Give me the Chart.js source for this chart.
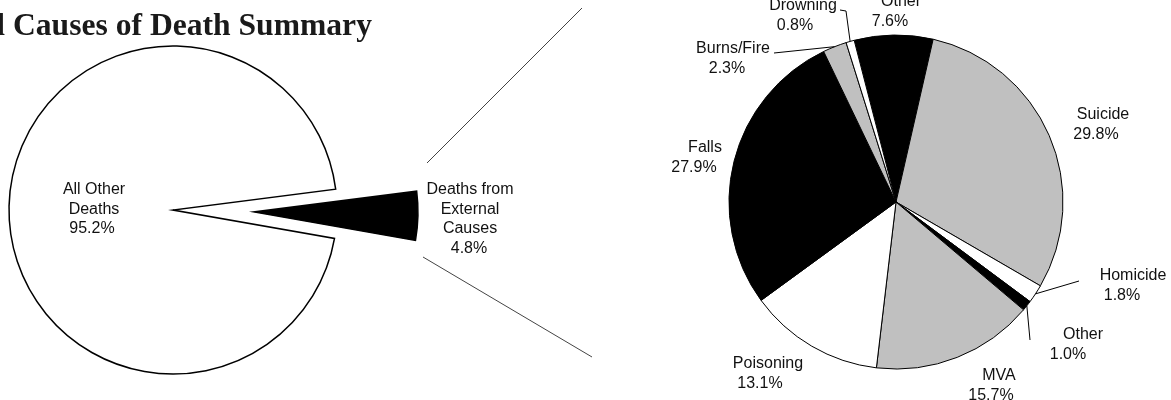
<!DOCTYPE html>
<html>
<head>
<meta charset="utf-8">
<script src="https://cdn.jsdelivr.net/npm/chart.js@4.4.1/dist/chart.umd.min.js"></script>
<style>
  html, body { margin: 0; padding: 0; background: #fff; overflow: hidden; }
  #wrap { position: relative; width: 1171px; height: 400px; }
  #wrap canvas { position: absolute; left: 0; top: 0; }
</style>
</head>
<body>
<div id="wrap">
  <canvas id="mainPie" width="1171" height="400"></canvas>
  <canvas id="detailPie" width="1171" height="400"></canvas>
</div>
<script>
const mainLabels = ['All Other Deaths', 'Deaths from External Causes'];
const mainValues = [95.2, 4.8];
const mainNameLines = [['All Other', 'Deaths'], ['Deaths from', 'External', 'Causes']];

const detailLabels = ['Other', 'Suicide', 'Homicide', 'Other', 'MVA', 'Poisoning', 'Falls', 'Burns/Fire', 'Drowning'];
const detailValues = [7.6, 29.8, 1.8, 1.0, 15.7, 13.1, 27.9, 2.3, 0.8];

const BLACK = '#000000', GREY = '#c0c0c0', WHITE = '#ffffff';
const detailColors = [BLACK, GREY, WHITE, BLACK, GREY, WHITE, BLACK, GREY, WHITE];

// how far each main slice is pulled out from the centre (px)
const mainExplode = [0, 81];

// label placement: [name centre x, percent centre x, first line centre y]
const mainLabelPos = [[94, 92, 190], [470, 469, 190]];
const detailLabelPos = [
  [901, 890, 2], [1103, 1096, 115], [1133, 1122, 276], [1083, 1068, 335],
  [999, 991, 376], [768, 760, 364], [705, 694, 148], [733, 727, 49], [803, 795, 6]
];
// leader lines: points near the label, then on to the slice edge
const leaders = { 2: [[1079, 281]], 3: [[1030, 340]], 7: [[774, 53]], 8: [[840, 10], [846, 11]] };
// lines joining the exploded slice to the detail pie
const connectors = [[[427, 163], [582, 8]], [[423, 257], [592, 357]]];

const LINE_H = 19.5;
const pct = v => v.toFixed(1) + '%';

function drawLabel(ctx, lines, value, pos) {
  ctx.save();
  ctx.font = '16px "Liberation Sans", Arial, sans-serif';
  ctx.fillStyle = '#111';
  ctx.textAlign = 'center';
  ctx.textBaseline = 'middle';
  lines.forEach((t, i) => ctx.fillText(t, pos[0], pos[2] + i * LINE_H));
  ctx.fillText(pct(value), pos[1], pos[2] + lines.length * LINE_H);
  ctx.restore();
}

// Chart.js scales its own offset down, so move exploded arcs here instead
const explode = {
  id: 'explode',
  beforeDatasetsDraw(chart) {
    const arcs = chart.getDatasetMeta(0).data;
    const cx = (chart.chartArea.left + chart.chartArea.right) / 2;
    const cy = (chart.chartArea.top + chart.chartArea.bottom) / 2;
    arcs.forEach((arc, i) => {
      const mid = (arc.startAngle + arc.endAngle) / 2;
      arc.x = cx + Math.cos(mid) * mainExplode[i];
      arc.y = cy + Math.sin(mid) * mainExplode[i];
    });
  }
};

const mainDecor = {
  id: 'mainDecor',
  afterDatasetsDraw(chart) {
    const ctx = chart.ctx;
    mainValues.forEach((v, i) => drawLabel(ctx, mainNameLines[i], v, mainLabelPos[i]));

    ctx.save();
    ctx.strokeStyle = '#444';
    ctx.lineWidth = 1;
    connectors.forEach(([a, b]) => {
      ctx.beginPath();
      ctx.moveTo(a[0], a[1]);
      ctx.lineTo(b[0], b[1]);
      ctx.stroke();
    });

    ctx.font = 'bold 31.6px "Liberation Serif", "Times New Roman", serif';
    ctx.fillStyle = '#1a1a1a';
    ctx.textBaseline = 'alphabetic';
    const pre = ctx.measureText('Total ').width;
    ctx.fillText('Total Causes of Death Summary', 13 - pre, 35);
    ctx.restore();
  }
};

const detailDecor = {
  id: 'detailDecor',
  afterDatasetsDraw(chart) {
    const ctx = chart.ctx;
    const arcs = chart.getDatasetMeta(0).data;
    detailValues.forEach((v, i) => drawLabel(ctx, [detailLabels[i]], v, detailLabelPos[i]));

    ctx.save();
    ctx.strokeStyle = '#000';
    ctx.lineWidth = 1;
    Object.keys(leaders).forEach(k => {
      const arc = arcs[k];
      const mid = (arc.startAngle + arc.endAngle) / 2;
      const pts = leaders[k];
      ctx.beginPath();
      ctx.moveTo(pts[0][0], pts[0][1]);
      pts.slice(1).forEach(p => ctx.lineTo(p[0], p[1]));
      ctx.lineTo(arc.x + Math.cos(mid) * arc.outerRadius, arc.y + Math.sin(mid) * arc.outerRadius);
      ctx.stroke();
    });
    ctx.restore();
  }
};

new Chart(document.getElementById('mainPie'), {
  type: 'pie',
  data: {
    labels: mainLabels,
    datasets: [{
      data: mainValues,
      backgroundColor: [WHITE, BLACK],
      borderColor: BLACK,
      borderWidth: 1.5,
      borderJoinStyle: 'miter'
    }]
  },
  options: {
    responsive: false,
    animation: false,
    rotation: 100,
    radius: 164,
    layout: { padding: { left: 0, right: 825, top: 20, bottom: 0 } },
    plugins: { legend: { display: false }, tooltip: { enabled: false } }
  },
  plugins: [explode, mainDecor]
});

new Chart(document.getElementById('detailPie'), {
  type: 'pie',
  data: {
    labels: detailLabels,
    datasets: [{
      data: detailValues,
      backgroundColor: detailColors,
      borderColor: BLACK,
      borderWidth: 1,
      borderJoinStyle: 'miter'
    }]
  },
  options: {
    responsive: false,
    animation: false,
    rotation: -14.5,
    radius: 167,
    layout: { padding: { left: 621, right: 0, top: 4, bottom: 0 } },
    plugins: { legend: { display: false }, tooltip: { enabled: false } }
  },
  plugins: [detailDecor]
});
</script>
</body>
</html>
